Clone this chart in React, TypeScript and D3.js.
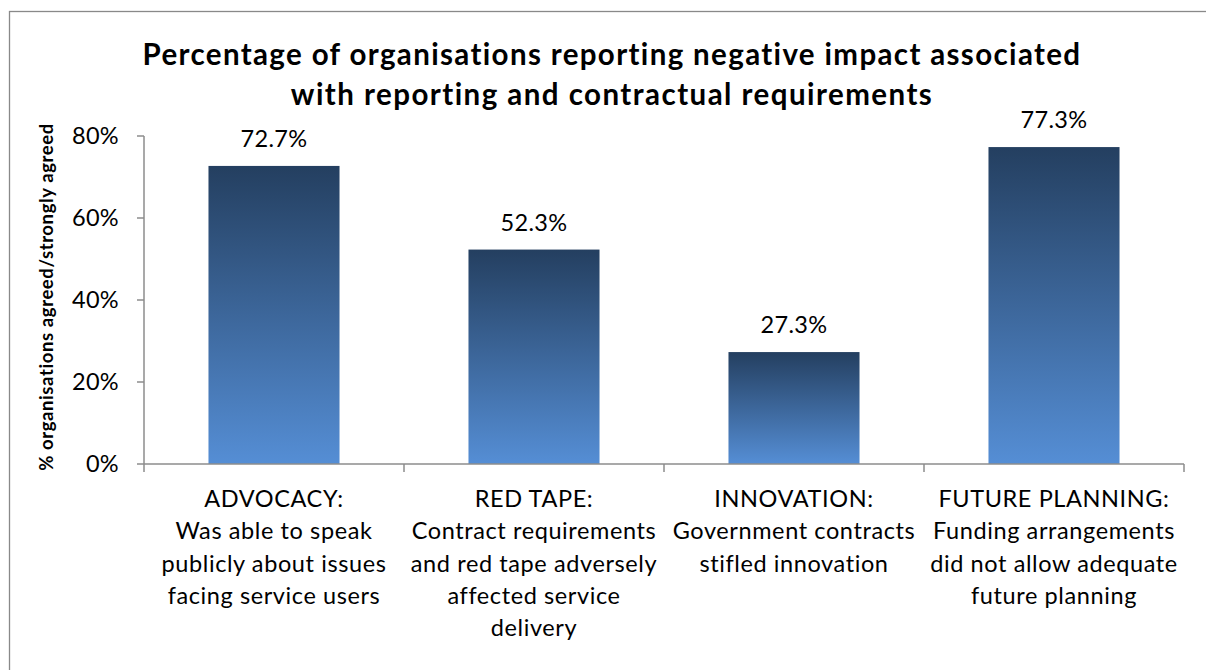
import React from "react";
import * as d3 from "d3";

const categories = ["ADVOCACY", "RED TAPE", "INNOVATION", "FUTURE PLANNING"];
const values = [0.727, 0.523, 0.273, 0.773];
const categoryLabels: string[][] = [
  ["ADVOCACY:", "Was able to speak", "publicly about issues", "facing service users"],
  ["RED TAPE:", "Contract requirements", "and red tape adversely", "affected service", "delivery"],
  ["INNOVATION:", "Government contracts", "stifled innovation"],
  ["FUTURE PLANNING:", "Funding arrangements", "did not allow adequate", "future planning"],
];
const yTicks = [0, 0.2, 0.4, 0.6, 0.8];
const titleLines = [
  "Percentage of organisations reporting negative impact associated",
  "with reporting and contractual requirements",
];
const yAxisTitle = "% organisations agreed/strongly agreed";

const W = 1206;
const H = 670;
const FONT = "Lato, 'Open Sans', sans-serif";

export default function App() {
  const x = d3.scaleBand<string>().domain(categories).range([144, 1184]).paddingInner(0.496).paddingOuter(0.248);
  const y = d3.scaleLinear().domain([0, 0.8]).range([464, 136]);
  const step = x.step();
  const pct = d3.format(".0%");
  const pct1 = d3.format(".1%");
  const axisColor = "#8c8c8c";
  const boundaries = d3.range(categories.length + 1).map((i) => 144 + i * step);
  const fs = 23.5;
  const ls = 0.6;

  return (
    <svg width={W} height={H} style={{ position: "absolute", left: 0, top: 0, background: "#fff" }} fontFamily={FONT}>
      <defs>
        <linearGradient id="barGrad" x1="0" y1="0" x2="0" y2="1">
          <stop offset="0" stopColor="#243f60" />
          <stop offset="1" stopColor="#558ed5" />
        </linearGradient>
      </defs>
      <rect x={0} y={0} width={W} height={H} fill="#fff" />
      <rect x={9.5} y={11.5} width={W + 20} height={H + 20} fill="none" stroke="#898989" strokeWidth={1.3} />

      {titleLines.map((t, i) => (
        <text key={i} x={612} y={65 + i * 40} textAnchor="middle" fontWeight="bold" fontSize={29.5} letterSpacing={i === 0 ? 1.35 : 1.45} fill="#000">
          {t}
        </text>
      ))}

      <text
        transform={`translate(53,297) rotate(-90)`}
        textAnchor="middle"
        fontWeight="bold"
        fontSize={18.5}
        letterSpacing={0.6}
        fill="#000"
      >
        {yAxisTitle}
      </text>

      {categories.map((c, i) => (
        <rect key={c} x={x(c)} y={y(values[i])} width={x.bandwidth()} height={y(0) - y(values[i])} fill="url(#barGrad)" />
      ))}

      <line x1={144} x2={144} y1={y(0.8)} y2={y(0)} stroke={axisColor} strokeWidth={1.5} />
      {yTicks.map((t) => (
        <g key={t}>
          <line x1={137} x2={144} y1={y(t)} y2={y(t)} stroke={axisColor} strokeWidth={1.5} />
          <text x={119} y={y(t) + 8} textAnchor="end" fontSize={fs} letterSpacing={0.3} fill="#000">
            {pct(t)}
          </text>
        </g>
      ))}

      <line x1={144} x2={1184} y1={y(0)} y2={y(0)} stroke={axisColor} strokeWidth={1.5} />
      {boundaries.map((b, i) => (
        <line key={i} x1={b} x2={b} y1={y(0)} y2={y(0) + 8} stroke={axisColor} strokeWidth={1.5} />
      ))}

      {categories.map((c, i) => (
        <text key={c} x={(x(c) as number) + x.bandwidth() / 2} y={y(values[i]) - 19} textAnchor="middle" fontSize={fs} letterSpacing={0.3} fill="#000">
          {pct1(values[i])}
        </text>
      ))}

      {categories.map((c, i) => (
        <text key={c} textAnchor="middle" fontSize={fs} letterSpacing={ls} fill="#000">
          {categoryLabels[i].map((line, j) => (
            <tspan key={j} x={(x(c) as number) + x.bandwidth() / 2} y={507 + j * 32.3}>
              {line}
            </tspan>
          ))}
        </text>
      ))}
    </svg>
  );
}
